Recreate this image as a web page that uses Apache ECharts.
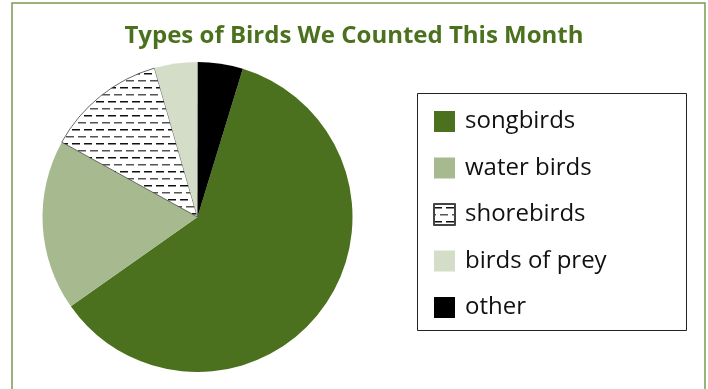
<!DOCTYPE html>
<html>
<head>
<meta charset="utf-8">
<script src="https://cdn.jsdelivr.net/npm/echarts@6/dist/echarts.min.js"></script>
<style>
  html, body { margin: 0; padding: 0; background: #fff; }
  #chart { width: 708px; height: 389px; }
</style>
</head>
<body>
<div id="chart"></div>
<script>
// data (percent of birds)
var birdTypes = ['songbirds', 'water birds', 'shorebirds', 'birds of prey', 'other'];
var birdShares = [60.5, 17.8, 12.5, 4.5, 4.7];
var sliceColors = ['#4b711e', '#a6b98f', null, '#d3ddc7', '#000000'];

// dashed pattern for the shorebirds slice
function dashPattern() {
    var c = document.createElement('canvas');
    c.width = 12;
    c.height = 14;
    var ctx = c.getContext('2d');
    ctx.fillStyle = '#fff';
    ctx.fillRect(0, 0, 12, 14);
    ctx.fillStyle = '#111';
    ctx.fillRect(0, 3, 8, 1.5);
    ctx.fillStyle = '#555';
    ctx.fillRect(6, 10, 8, 1.5);
    ctx.fillRect(0, 10, 2, 1.5);
    return { image: c, repeat: 'repeat' };
}

var pieData = [];
for (var i = 0; i < birdTypes.length; i++) {
    var item = { name: birdTypes[i], value: birdShares[i], itemStyle: {} };
    if (sliceColors[i]) {
        item.itemStyle.color = sliceColors[i];
    } else {
        item.itemStyle.color = dashPattern();
        item.itemStyle.borderColor = '#444';
        item.itemStyle.borderWidth = 0.8;
    }
    pieData.push(item);
}

var chart = echarts.init(document.getElementById('chart'));

var option = {
    animation: false,
    title: {
        text: 'Types of Birds We Counted This Month',
        left: 'center',
        top: 19,
        textStyle: {
            fontFamily: 'Open Sans',
            fontSize: 24,
            fontWeight: 'bold',
            color: '#4b711e'
        }
    },
    graphic: [
        {   // outer frame
            type: 'rect',
            shape: { x: 12, y: 3, width: 693, height: 420 },
            style: { fill: 'none', stroke: '#7a9a52', lineWidth: 1.5 },
            silent: true
        },
        {   // legend box
            type: 'rect',
            shape: { x: 417.5, y: 93.5, width: 269, height: 237 },
            style: { fill: 'none', stroke: '#222', lineWidth: 1 },
            silent: true
        }
    ],
    legend: {
        orient: 'vertical',
        left: 428,
        top: 104.5,
        itemWidth: 21,
        itemHeight: 21,
        itemGap: 22.5,
        icon: 'rect',
        data: birdTypes,
        textStyle: {
            fontFamily: 'Open Sans',
            fontSize: 24,
            color: '#111',
            padding: [0, 0, 0, 5]
        }
    },
    series: [
        {
            name: 'Birds',
            type: 'pie',
            center: [197.5, 217],
            radius: 155,
            startAngle: 73,
            clockwise: true,
            label: { show: false },
            labelLine: { show: false },
            emphasis: { disabled: true },
            data: pieData
        }
    ]
};

chart.setOption(option);
</script>
</body>
</html>
